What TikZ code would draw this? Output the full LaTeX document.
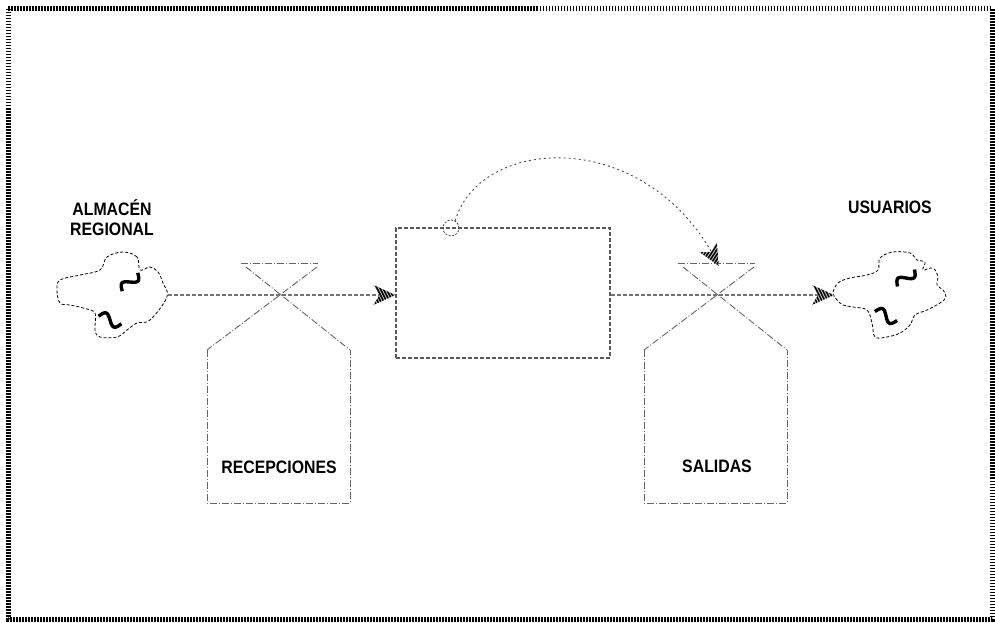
\documentclass[tikz,border=0pt]{standalone}
\usepackage{fontspec}
\setmainfont[FakeStretch=0.88]{Liberation Sans}
\tikzset{
  frame/.style={line width=5, dash pattern=on 1.5 off 1.5, black},
  flow/.style={line width=1.3, dash pattern=on 4 off 2, black!55},
  stockbox/.style={draw=black!65, line width=1.1, dash pattern=on 4 off 2, rectangle, inner sep=0},
  valveline/.style={line width=0.9, dash pattern=on 7 off 2 on 1 off 2, black!60},
  cloudline/.style={line width=0.8, dash pattern=on 3 off 2, black},
  infoline/.style={line width=0.9, dash pattern=on 2 off 3, black!70},
  tildeline/.style={line width=3.4, black},
  lbl/.style={font=\fontsize{18}{20}\selectfont\bfseries, align=center, inner sep=0},
  harrow/.pic={
    \begin{scope}
      \clip (0,0) -- (-22,-10) -- (-16,0) -- (-22,10) -- cycle;
      \fill[black!25] (0,0) -- (-22,-10) -- (-16,0) -- (-22,10) -- cycle;
      \foreach \i in {-36,-33,...,12} \draw[line width=1.5, black] (\i,-12) -- (\i+12,12);
    \end{scope}
  },
  tilde/.pic={\draw[tildeline] plot[domain=-1:1, samples=25, smooth] ({12*\x},{5.5*sin(180*\x)});},
  valve/.pic={
    \draw[valveline] (-38,-32) -- (39,-32);
    \draw[valveline] (-33,-28) -- (71,55);
    \draw[valveline] (38,-28) -- (-72,55);
    \draw[valveline] (-72,55) -- (-72,208) -- (71,208) -- (71,55);
  }
}
\begin{document}
\begin{tikzpicture}[x=1pt,y=-1pt]
\useasboundingbox (0,0) rectangle (995,623);
\draw[frame] (8,9) rectangle (992,619);

% left cloud
\draw[cloudline] plot[smooth cycle, tension=0.6] coordinates {
 (140,270) (137,257) (123,252) (107,257) (100,270) (80,275) (60,280) (57,290)
 (60,303) (70,305) (83,308) (95,313) (95,330) (100,337) (117,337) (127,330)
 (137,323) (150,320) (167,297) (163,283) (158,272) (150,267)};
\coordinate (cloudL) at (168,295);
\pic[rotate=50] at (130,282) {tilde};
\pic[rotate=-18] at (110,320) {tilde};

% right cloud
\draw[cloudline] plot[smooth cycle, tension=0.6] coordinates {
 (833,293) (838,283) (850,278) (867,275) (878,270) (880,258) (893,252) (910,253)
 (917,260) (925,262) (923,270) (933,268) (938,277) (937,285) (943,290) (946,297)
 (940,303) (927,310) (915,315) (910,325) (900,333) (887,337) (875,337) (872,323)
 (867,310) (853,307) (843,305) (837,300)};
\coordinate (cloudR) at (834,295);
\pic[rotate=45] at (906,278) {tilde};
\pic[rotate=-22] at (886,316) {tilde};

% labels
\node[lbl] (lalm) at (112,218) {ALMACÉN\\REGIONAL};
\node[lbl] (lusu) at (890,207) {USUARIOS};

% stock
\node[stockbox, minimum width=214, minimum height=130] (stock) at (503,293) {};
\node[circle, draw=black!70, line width=0.8, dash pattern=on 2 off 1.5, minimum size=16, inner sep=0] (aux) at (451,228) {};

% valves
\coordinate (v1) at (279,295);
\coordinate (v2) at (716,295);
\pic at (v1) {valve};
\pic at (v2) {valve};
\node[lbl] (lrec) at (279,467) {RECEPCIONES};
\node[lbl] (lsal) at (717,466) {SALIDAS};

% flows
\draw[flow] (cloudL) -- (stock.west |- cloudL);
\pic at (stock.west |- cloudL) {harrow};
\draw[flow] (stock.east |- v2) -- (cloudR);
\pic at (cloudR) {harrow};

% information link
\coordinate (infoEnd) at (719,266);
\draw[infoline] (aux.60) .. controls (480,135) and (650,125) .. (infoEnd);
\pic[rotate=-60] at (infoEnd) {harrow};
\end{tikzpicture}
\end{document}
